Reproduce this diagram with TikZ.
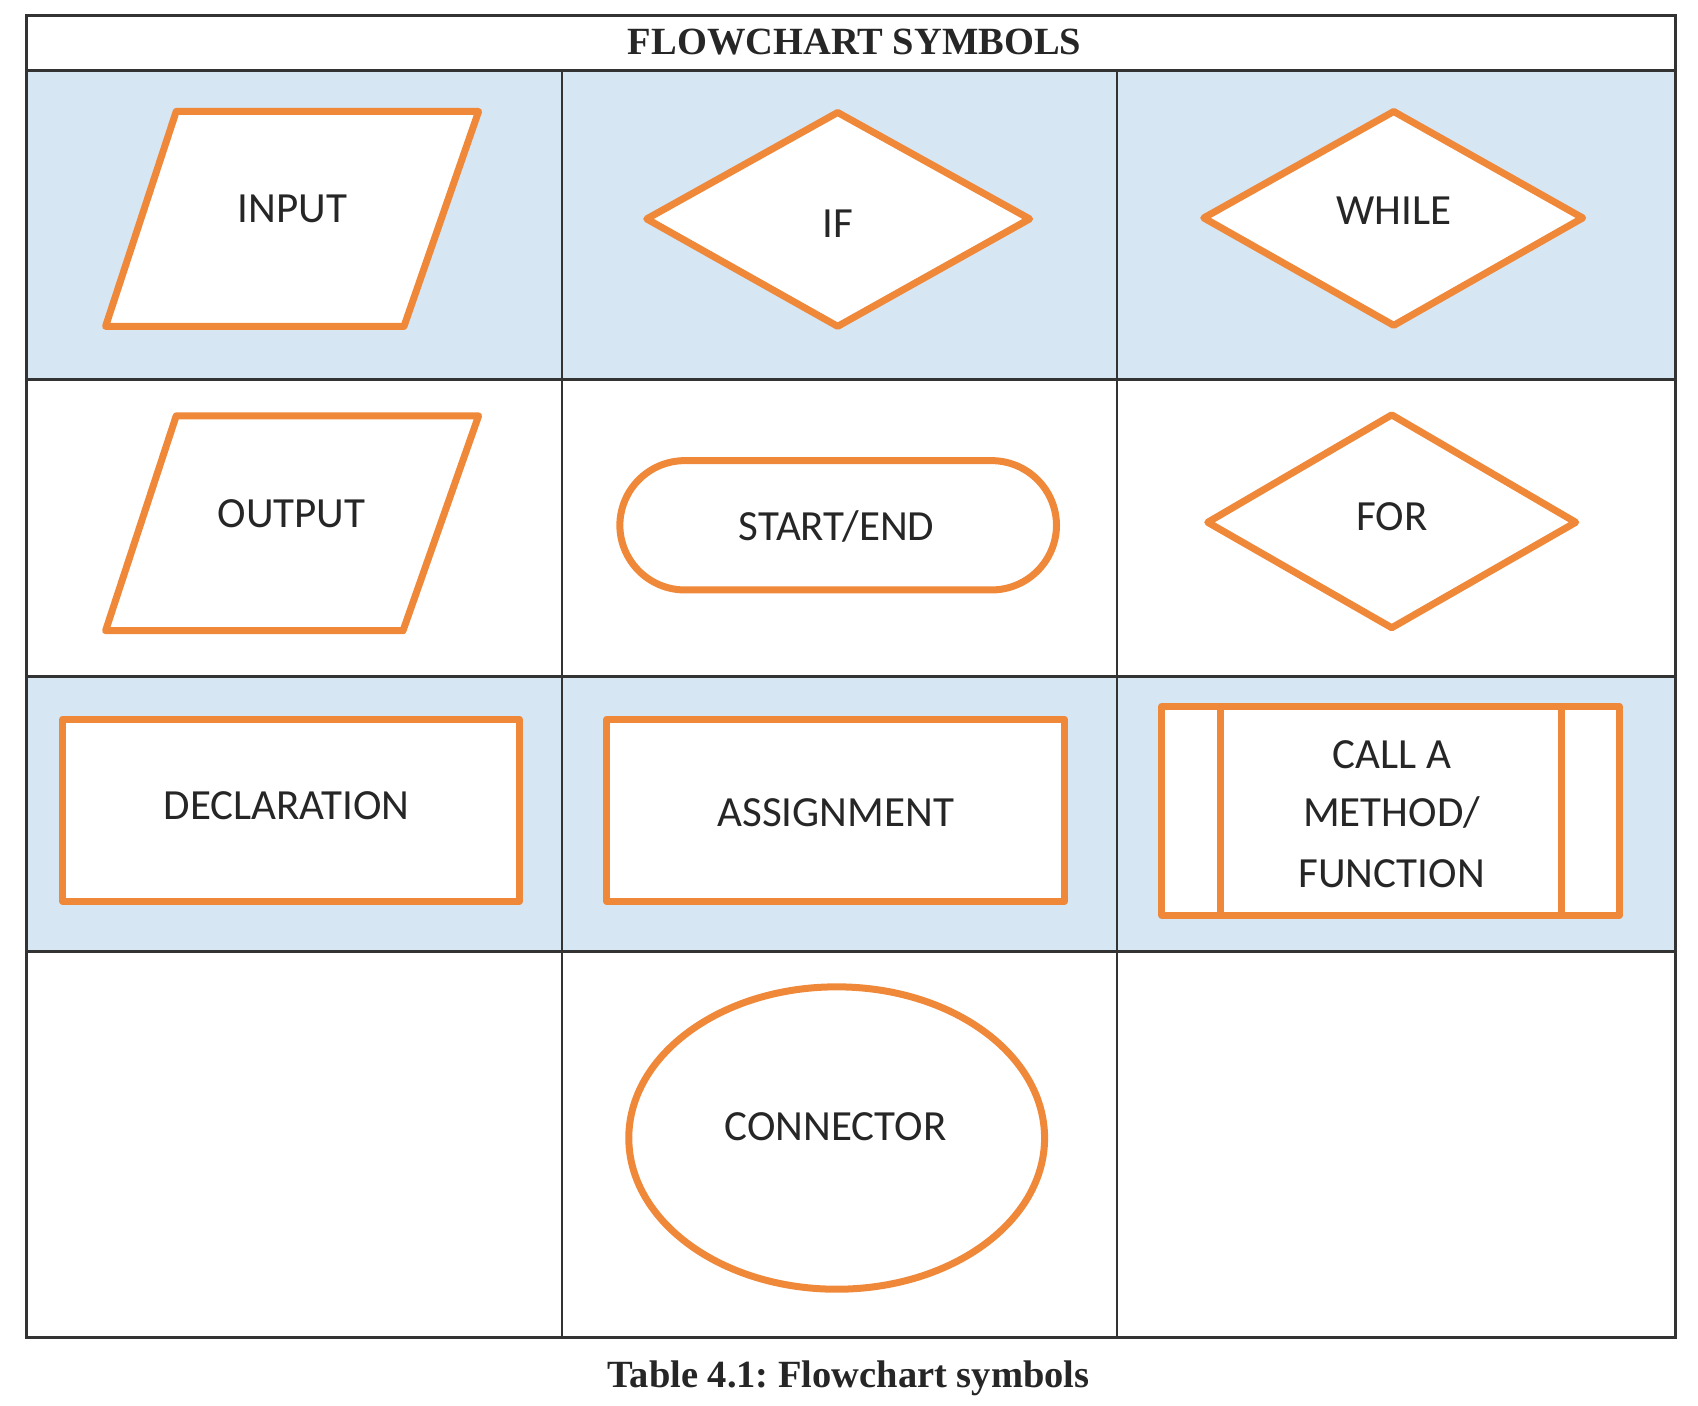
\documentclass[tikz,border=0pt]{standalone}
\usepackage{fontspec}
\setmainfont{Carlito}
\newfontfamily\capfont{Liberation Serif}
\definecolor{sorange}{HTML}{F0883A}
\definecolor{rowblue}{HTML}{D6E6F3}
\definecolor{gridgray}{HTML}{333333}
\definecolor{txtgray}{HTML}{262626}
\frenchspacing
\begin{document}
\begin{tikzpicture}[x=1pt,y=-1pt,
  shapeline/.style={draw=sorange,line width=7pt,fill=white,line join=round},
  lbl/.style={anchor=base,inner sep=0pt,font=\fontsize{43}{51}\selectfont,text=txtgray},
  heavy/.style={draw=gridgray,line width=3pt},
  light/.style={draw=gridgray,line width=1.5pt},
  captxt/.style={anchor=base,inner sep=0pt,font=\capfont\bfseries\fontsize{38.5}{46}\selectfont,text=txtgray}]
\useasboundingbox (0,0) rectangle (1698,1406);
\fill[white] (0,0) rectangle (1698,1406);
\begin{scope}[shift={(26,15)},scale=0.9947,shift={(-26,-15)}]
% blue rows
\fill[rowblue] (26,71) rectangle (1684,381);
\fill[rowblue] (26,680) rectangle (1684,956);
% grid
\draw[light] (565,71) -- (565,1345);
\draw[light] (1123,71) -- (1123,1345);
\draw[heavy] (26,71) -- (1684,71);
\draw[heavy] (26,381) -- (1684,381);
\draw[heavy] (26,680) -- (1684,680);
\draw[heavy] (26,956) -- (1684,956);
\draw[heavy] (26,15) rectangle (1684,1345);
% title and caption
\node[captxt] (title) at (859,55) {FLOWCHART SYMBOLS};
\node[captxt] (caption) at (853,1395) {Table 4.1: Flowchart symbols};
% row 1
\draw[shapeline] (177,112) -- (481,112) -- (406,328) -- (106,328) -- cycle;
\node[lbl] (input) at (294,224) {INPUT};
\draw[shapeline] (650,220) -- (842,113) -- (1035,220) -- (842,328) -- cycle;
\node[lbl] (if) at (842,239) {IF};
\draw[shapeline] (1210,219) -- (1401,112) -- (1591,219) -- (1401,327) -- cycle;
\node[lbl] (while) at (1401,226) {WHILE};
% row 2
\draw[shapeline] (177,418) -- (481,418) -- (405,634) -- (106,634) -- cycle;
\node[lbl] (output) at (293,530) {OUTPUT};
\draw[shapeline,rounded corners=65pt] (623,463) rectangle (1062,593);
\node[lbl] (startend) at (841,543) {START/END};
\draw[shapeline] (1214,525) -- (1399,417) -- (1584,525) -- (1399,631) -- cycle;
\node[lbl] (for) at (1399,533) {FOR};
% row 3
\draw[shapeline] (63,723) rectangle (522,906);
\node[lbl] (decl) at (288,824) {DECLARATION};
\draw[shapeline] (610,723) rectangle (1070,906);
\node[lbl] (assign) at (840,831) {ASSIGNMENT};
\draw[shapeline] (1168,710) rectangle (1628,920);
\draw[sorange,line width=7pt] (1227,710) -- (1227,920);
\draw[sorange,line width=7pt] (1570,710) -- (1570,920);
\node[lbl] (call1) at (1399,772) {CALL A};
\node[lbl] (call2) at (1399,831) {METHOD/};
\node[lbl] (call3) at (1399,892) {FUNCTION};
% row 4
\draw[shapeline] (841,1144) ellipse [x radius=209, y radius=152];
\node[lbl] (conn) at (840,1146) {CONNECTOR};
\end{scope}
\end{tikzpicture}
\end{document}
